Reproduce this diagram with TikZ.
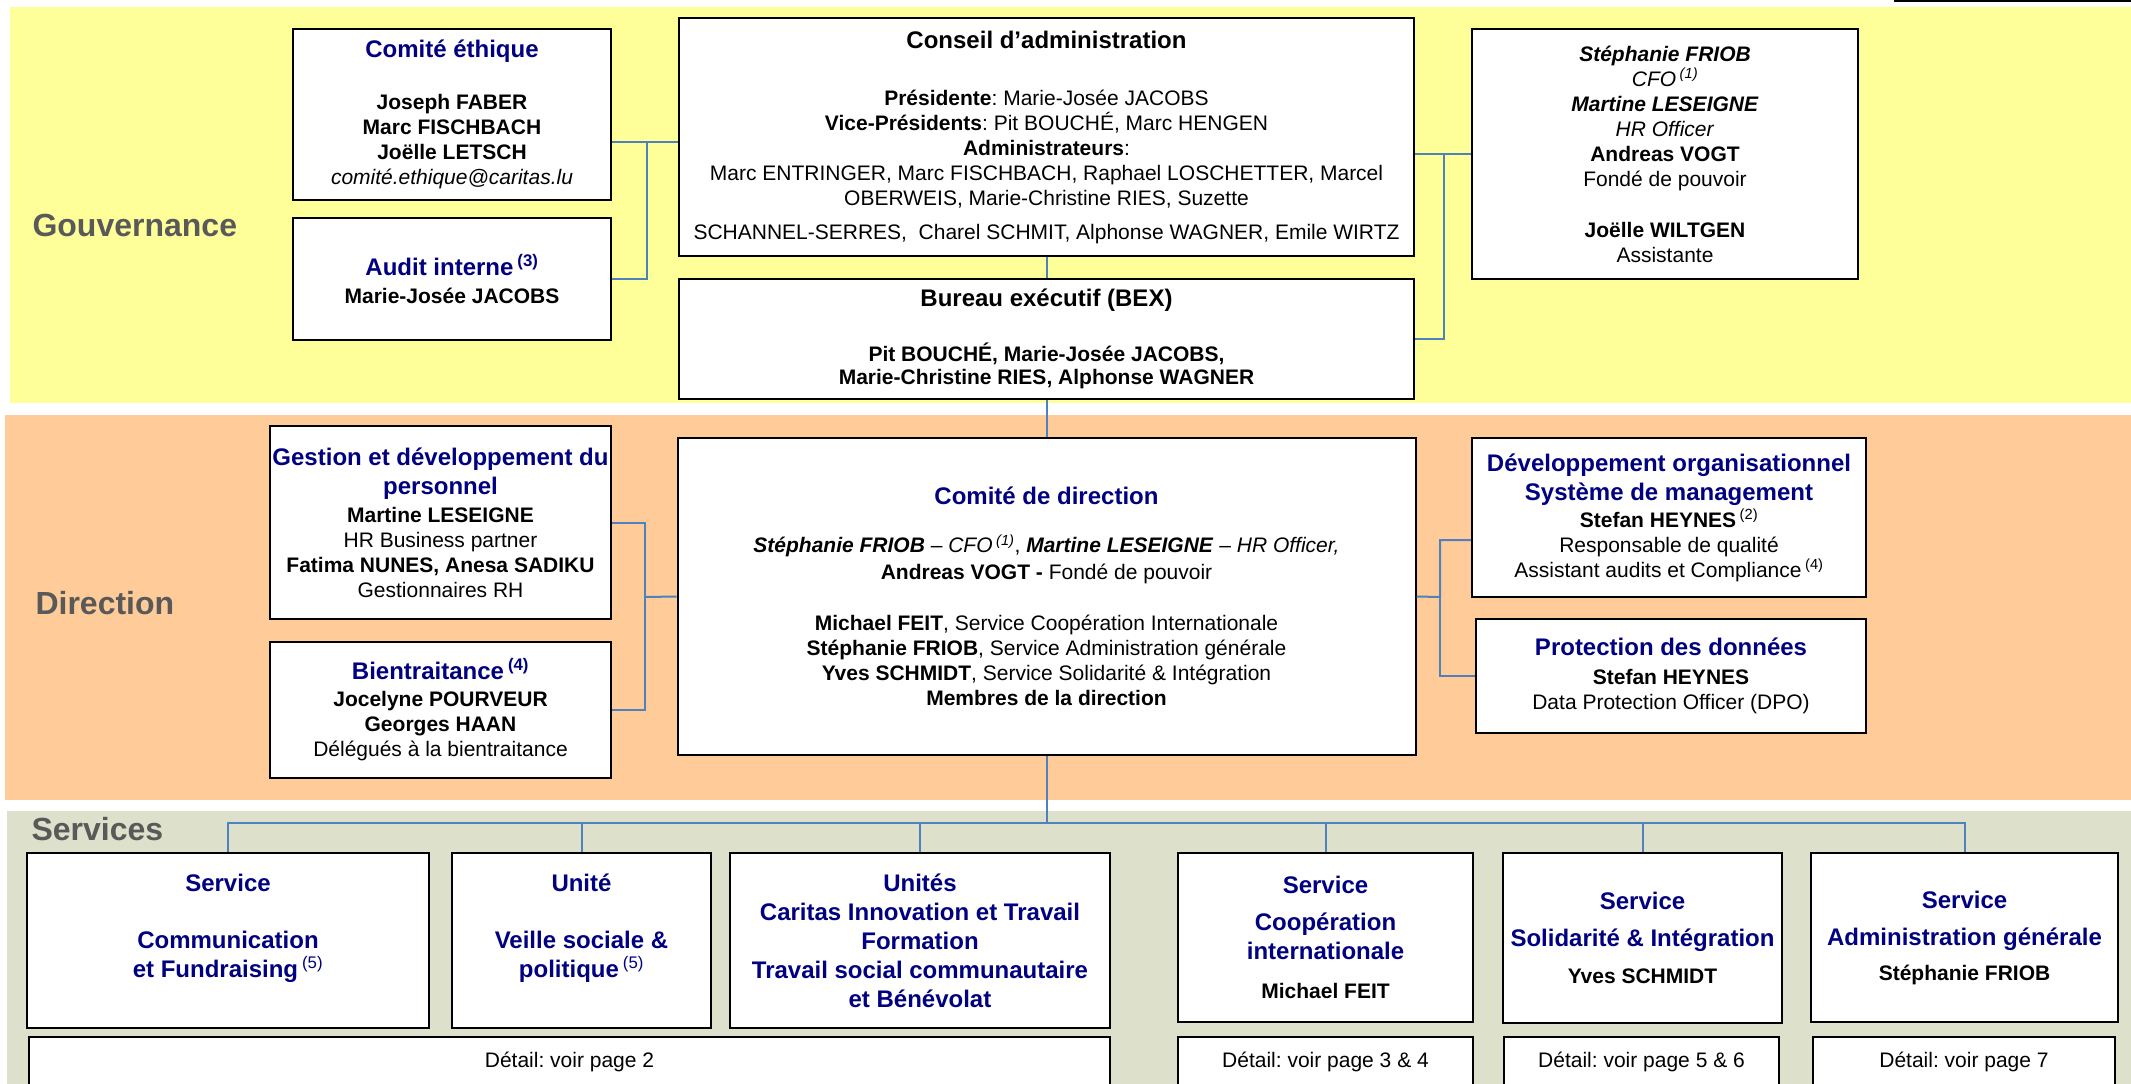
\documentclass[tikz,border=0pt]{standalone}
\usepackage{fontspec}
\setmainfont{Liberation Sans}
\frenchspacing
\definecolor{navytitle}{RGB}{0,0,128}
\definecolor{linkblue}{RGB}{79,129,189}
\definecolor{bandyellow}{RGB}{255,255,153}
\definecolor{bandorange}{RGB}{255,204,153}
\definecolor{bandgreen}{RGB}{221,225,203}
\definecolor{headgray}{RGB}{89,89,89}
\newcommand{\boxtitle}[1]{{\fontsize{24}{25}\selectfont\bfseries\color{navytitle}#1}}
\newcommand{\blacktitle}[1]{{\fontsize{24}{25}\selectfont\bfseries #1}}
\newcommand{\nb}[1]{\textsuperscript{(#1)}}

\begin{document}
\begin{tikzpicture}[x=1pt, y=-1pt,
  box/.style={draw, line width=2pt, fill=white, inner sep=0pt, align=center,
    font=\fontsize{21}{25}\selectfont},
  svcbox/.style={box, font=\fontsize{24}{29}\selectfont\bfseries, text=navytitle},
  level/.style={anchor=west, font=\fontsize{32}{36}\selectfont\bfseries, text=headgray},
  link/.style={draw=linkblue, line width=2pt}]
\useasboundingbox (0,0) rectangle (2131,1084);
%
\fill[white] (0,0) rectangle (2131,1084);
\fill[bandyellow] (10,7) rectangle (2140,403);
\fill[bandorange] (5,415) rectangle (2140,800);
\fill[bandgreen] (7,811) rectangle (2140,1090);
%
      \node [box, minimum width=260, minimum height=40] at (2025,-19) (cutbox) {};
      \node [level] at (29,225) (gouv) {Gouvernance};
      \node [level] at (32,603) (dir) {Direction};
      \node [level] at (28,829) (serv) {Services};
%
      \node [box, minimum width=318, minimum height=171] at (452,114.5) (ethique)
        {\boxtitle{Comité éthique}\\[27pt] \textbf{Joseph FABER}\\ \textbf{Marc FISCHBACH}\\
         \textbf{Joëlle LETSCH}\\ \textit{comité.ethique@caritas.lu}};
      \node [box, minimum width=318, minimum height=122] at (452,279) (audit)
        {\boxtitle{Audit interne\,\nb{3}}\\[3pt] \textbf{Marie-Josée JACOBS}};
      \node [box, minimum width=735, minimum height=238] at (1046.5,137) (ca)
        {\blacktitle{Conseil d’administration}\\[32pt]
         \textbf{Présidente}: Marie-Josée JACOBS\\
         \textbf{Vice-Présidents}: Pit BOUCHÉ, Marc HENGEN\\
         \textbf{Administrateurs}:\\
         Marc ENTRINGER, Marc FISCHBACH, Raphael LOSCHETTER, Marcel\\
         OBERWEIS, Marie-Christine RIES, Suzette\\[9pt]
         SCHANNEL-SERRES,\ \ Charel SCHMIT, Alphonse WAGNER, Emile WIRTZ};
      \node [box, minimum width=735, minimum height=120] at (1046.5,339) (bex)
        {\blacktitle{Bureau exécutif (BEX)}\\[30pt]
         \textbf{Pit BOUCHÉ, Marie-Josée JACOBS,}\\[-2pt]
         \textbf{Marie-Christine RIES, Alphonse WAGNER}};
      \node [box, minimum width=386, minimum height=250] at (1665,154) (staff)
        {\textbf{\textit{Stéphanie FRIOB}}\\ \textit{CFO}\,\textsuperscript{\textit{(1)}}\\
         \textbf{\textit{Martine LESEIGNE}}\\ \textit{HR Officer}\\
         \textbf{Andreas VOGT}\\ Fondé de pouvoir\\[26pt]
         \textbf{Joëlle WILTGEN}\\ Assistante};
%
      \node [box, minimum width=341, minimum height=193] at (440.5,522.5) (gestion)
        {\boxtitle{Gestion et développement du}\\[4pt] \boxtitle{personnel}\\[3pt]
         \textbf{Martine LESEIGNE}\\ HR Business partner\\
         \textbf{Fatima NUNES, Anesa SADIKU}\\ Gestionnaires RH};
      \node [box, minimum width=341, minimum height=136] at (440.5,710) (bien)
        {\boxtitle{Bientraitance\,\nb{4}}\\[2pt] \textbf{Jocelyne POURVEUR}\\
         \textbf{Georges HAAN}\\ Délégués à la bientraitance};
      \node [box, minimum width=738, minimum height=317] at (1046.5,596.5) (cdd)
        {\boxtitle{Comité de direction}\\[23pt]
         \textbf{\textit{Stéphanie FRIOB}} \textit{– CFO}\,\textsuperscript{\textit{(1)}},
         \textbf{\textit{Martine LESEIGNE}} \textit{– HR Officer,}\\[2pt]
         \textbf{Andreas VOGT -} Fondé de pouvoir\\[26pt]
         \textbf{Michael FEIT}, Service Coopération Internationale\\
         \textbf{Stéphanie FRIOB}, Service Administration générale\\
         \textbf{Yves SCHMIDT}, Service Solidarité \& Intégration\\
         \textbf{Membres de la direction}};
      \node [box, minimum width=394, minimum height=159] at (1669,517.5) (dev)
        {\boxtitle{Développement organisationnel}\\[4pt] \boxtitle{Système de management}\\[2pt]
         \textbf{Stefan HEYNES}\,\nb{2}\\ Responsable de qualité\\
         Assistant audits et Compliance\,\nb{4}};
      \node [box, minimum width=390, minimum height=114] at (1671,676) (prot)
        {\boxtitle{Protection des données}\\[4pt] \textbf{Stefan HEYNES}\\
         Data Protection Officer (DPO)};
%
      \node [svcbox, minimum width=402, minimum height=175] at (228,940.5) (comm)
        {Service\\[28pt] Communication\\ et Fundraising\,{\mdseries\nb{5}}\\ ~};
      \node [svcbox, minimum width=259, minimum height=175] at (581.5,940.5) (veille)
        {Unité\\[28pt] Veille sociale \&\\ politique\,{\mdseries\nb{5}}\\ ~};
      \node [svcbox, minimum width=380, minimum height=175] at (920,940.5) (unites)
        {Unités\\ Caritas Innovation et Travail\\ Formation\\
         Travail social communautaire\\ et Bénévolat};
      \node [svcbox, minimum width=295, minimum height=169] at (1325.5,937.5) (coop)
        {Service\\[8pt] Coopération\\ internationale\\[10pt]
         {\color{black}\fontsize{21}{25}\selectfont Michael FEIT}};
      \node [svcbox, minimum width=279, minimum height=170] at (1642.5,938) (sol)
        {Service\\[8pt] Solidarité \& Intégration\\[8pt]
         {\color{black}\fontsize{21}{25}\selectfont Yves SCHMIDT}};
      \node [svcbox, minimum width=307, minimum height=169] at (1964.5,937.5) (adm)
        {Service\\[8pt] Administration générale\\[6pt]
         {\color{black}\fontsize{21}{25}\selectfont Stéphanie FRIOB}};
%
      \node [box, minimum width=1081, minimum height=50] at (569.5,1062) (det2) {Détail: voir page 2};
      \node [box, minimum width=295, minimum height=50] at (1325.5,1062) (det34) {Détail: voir page 3 \& 4};
      \node [box, minimum width=275, minimum height=50] at (1641.5,1062) (det56) {Détail: voir page 5 \& 6};
      \node [box, minimum width=302, minimum height=50] at (1964,1062) (det7) {Détail: voir page 7};
%
\coordinate (gj) at (647,142);
\coordinate (dj) at (1444,154);
\coordinate (lj) at (645,597);
\coordinate (rj) at (1440,597);
\coordinate (rtop) at (1440,540);
\coordinate (bus) at (1046.5,823);
%
\draw[link] (ethique.east |- gj) -- (gj) |- (audit.east);
\draw[link] (gj) -- (ca.west |- gj);
\draw[link] (ca.east |- dj) -- (staff.west |- dj);
\draw[link] (dj) |- (bex.east);
\draw[link] (ca.south) -- (bex.north);
\draw[link] (bex.south) -- (cdd.north);
\draw[link] (gestion.east) -| (lj) |- (bien.east);
\draw[link] (lj) -- (cdd.west);
\draw[link] (cdd.east) -- (rj) -- (rtop) -- (dev.west |- rtop);
\draw[link] (rj) |- (prot.west);
\draw[link] (cdd.south) -- (bus);
\draw[link] (comm.north) |- (bus) -| (adm.north);
\foreach \s in {veille,unites,coop,sol}
  \draw[link] (\s.north) -- (\s.north |- bus);
\end{tikzpicture}
\end{document}
